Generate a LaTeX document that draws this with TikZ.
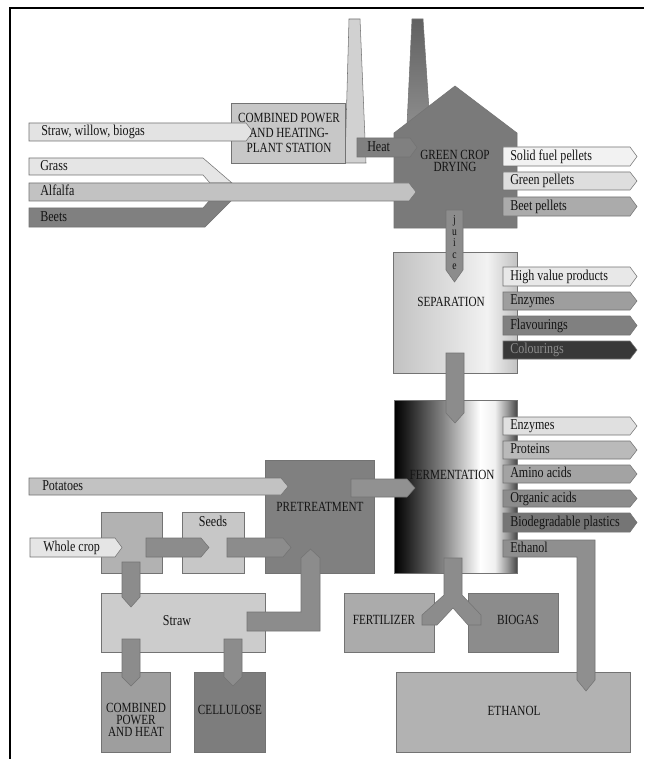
\documentclass[tikz,border=0pt]{standalone}
\usepackage{fontspec}
\setmainfont{Liberation Serif}[FakeStretch=0.8]
\pgfdeclarehorizontalshading{fermsh}{100bp}{color(0bp)=(black); color(25bp)=(black); color(30bp)=(black!88); color(45bp)=(black!48); color(60bp)=(white); color(66bp)=(black!6); color(71bp)=(black!40); color(75bp)=(black!72); color(100bp)=(black!72)}
\pgfdeclarehorizontalshading{sepsh}{100bp}{color(0bp)=(black!24); color(25bp)=(black!24); color(50bp)=(black!12); color(63bp)=(black!5); color(75bp)=(black!24); color(100bp)=(black!24)}
\tikzset{
  shp/.style={draw=black!55, line width=0.4pt, line join=miter},
  lbl/.style={font=\fontsize{11.3pt}{11pt}\selectfont, text=black!92, inner sep=0pt, text height=7.5pt, text depth=2pt},
  captxt/.style={font=\fontsize{10.5pt}{9.5pt}\selectfont, text=black!92, inner sep=0pt, align=center},
}
\newcommand{\FatR}[8]{%
  \path[shp, fill=#6] (#2,#3) -- (#4,#3) -- ({#4+7},{(#3+#5)/2}) -- (#4,#5) -- (#2,#5) -- cycle;
  \node[lbl, anchor=west] (#1) at ({#2+#7},{(#3+#5)/2}) {#8};}
\newcommand{\FatD}[6]{%
  \path[shp, fill=#6] (#1,#3) -- (#2,#3) -- (#2,#4) -- ({(#1+#2)/2},#5) -- (#1,#4) -- cycle;}
\begin{document}
\begin{tikzpicture}[x=0.75pt, y=-0.75pt]
\useasboundingbox (0,0) rectangle (644,759);
\fill[white] (0,0) rectangle (644,759);
% frame
\draw[line width=1.5pt] (10,759) -- (10,8) -- (644,8);

% ---------- top: power plant and green crop drying ----------
\path[shp, fill=black!18] (349,19) -- (360,19) -- (366,163) -- (345,163) -- cycle;
\path[shp, top color=black!62, bottom color=black!45] (412,19) -- (423,19) -- (430,125) -- (407,125) -- cycle;
\path[shp, fill=black!22] (231,103) rectangle (345,163);
\FatR{straw}{29}{123}{246}{141}{black!11}{12}{Straw, willow, biogas}
\node[captxt, font=\fontsize{10.5pt}{11.5pt}\selectfont] (chp) at (289,133) {COMBINED POWER\\AND HEATING-\\PLANT STATION};

\path[shp, fill=black!52] (394,228) -- (394,133) -- (455,86) -- (517,133) -- (517,228) -- cycle;
\FatR{heat}{357}{138}{410}{157}{black!50}{10}{Heat}
\node[captxt] (gcd) at (455,161) {GREEN CROP\\DRYING};

% grass / alfalfa / beets
\path[shp, fill=black!10] (29,158) -- (203,158) -- (232,183) -- (210,183) -- (203,175) -- (29,175) -- cycle;
\path[shp, fill=black!50] (29,208) -- (203,208) -- (210,200) -- (232,200) -- (205,227) -- (29,227) -- cycle;
\node[lbl, anchor=west] (grass) at (40,166.5) {Grass};
\node[lbl, anchor=west] (beets) at (40,217.5) {Beets};
\FatR{alfalfa}{29}{183}{409}{201}{black!24}{11}{Alfalfa}

\FatR{sfp}{503}{147}{630}{166}{black!5}{7}{Solid fuel pellets}
\FatR{gp}{503}{172}{630}{190}{black!13}{7}{Green pellets}
\FatR{bp}{503}{197}{630}{216}{black!33}{7}{Beet pellets}

% ---------- separation ----------
\path[shp, shading=sepsh] (393,252) rectangle (517,373);
\FatD{446}{463}{210}{270}{282}{black!45}
\node[captxt, font=\fontsize{9pt}{8.6pt}\selectfont] (juice) at (454.5,243) {j\\u\\i\\c\\e};
\node[captxt] (sep) at (451,302) {SEPARATION};
\FatR{hvp}{503}{267}{630}{286}{black!9}{7}{High value products}
\FatR{enz1}{503}{292}{630}{310}{black!38}{7}{Enzymes}
\FatR{flav}{503}{316}{630}{335}{black!50}{7}{Flavourings}
\FatR{col}{503}{341}{630}{359}{black!78}{7}{\textcolor{black!45}{Colourings}}

% ---------- fermentation ----------
\path[shp, shading=fermsh] (394,400) rectangle (517,573);
\FatD{446}{464}{353}{413}{423}{black!45}
\FatR{enz2}{503}{417}{630}{435}{black!12}{7}{Enzymes}
\FatR{prot}{503}{441}{630}{459}{black!27}{7}{Proteins}
\FatR{amino}{503}{465}{630}{483}{black!36}{7}{Amino acids}
\FatR{org}{503}{490}{630}{507}{black!45}{7}{Organic acids}
\FatR{bio}{503}{513}{630}{532}{black!54}{7}{Biodegradable plastics}

% ---------- pretreatment ----------
\path[shp, fill=black!50] (265,460) rectangle (374,573);
\FatR{pot}{29}{478}{281}{495}{black!24}{13}{Potatoes}
\path[shp, fill=black!43] (351,479) -- (407,479) -- (415,488) -- (407,497) -- (351,497) -- cycle;
\node[captxt] (pre) at (320,507) {PRETREATMENT};
\node[captxt] (ferm) at (452,475) {FERMENTATION};

% ---------- whole crop ----------
\path[shp, fill=black!30] (101,512) rectangle (162,573);
\path[shp, fill=black!22] (182,512) rectangle (244,573);
\node[lbl] (seeds) at (213,523) {Seeds};
\FatR{wc}{30}{538}{115}{557}{black!10}{13}{Whole crop}
\path[shp, fill=black!45] (146,538) -- (201,538) -- (209,547.5) -- (201,557) -- (146,557) -- cycle;
\path[shp, fill=black!45] (227,538) -- (283,538) -- (291,547.5) -- (283,557) -- (227,557) -- cycle;

\path[shp, fill=black!20] (101,593) rectangle (265,652);
\FatD{122}{140}{562}{597}{607}{black!45}
\node[lbl] (strawbox) at (177,622) {Straw};
\path[shp, fill=black!45] (247,612) -- (301,612) -- (301,558) -- (310.5,549) -- (320,558) -- (320,631) -- (247,631) -- cycle;

\path[shp, fill=black!38] (101,672) rectangle (170,752);
\path[shp, fill=black!51] (194,672) rectangle (265,752);
\FatD{122}{140}{639}{677}{686}{black!45}
\FatD{224}{242}{639}{677}{686}{black!45}
\node[captxt, font=\fontsize{10.5pt}{9pt}\selectfont] (cph) at (136,720) {COMBINED\\POWER\\AND HEAT};
\node[captxt] (cell) at (230,710) {CELLULOSE};

% ---------- fertilizer / biogas / ethanol ----------
\path[shp, fill=black!33] (344,593) rectangle (434,652);
\path[shp, fill=black!45] (468,593) rectangle (558,652);
\path[shp, fill=black!30] (396,672) rectangle (630,752);
\path[shp, fill=black!44] (503,540) -- (595,540) -- (595,680) -- (586,691) -- (577,680) -- (577,557) -- (503,557) -- cycle;
\node[lbl, anchor=west] (eth) at (510,548.5) {Ethanol};
\path[shp, fill=black!45] (444,558) -- (462,558) -- (462,595) -- (481,615) -- (481,625) -- (468,625) -- (453,608) -- (437,625) -- (422,625) -- (422,615) -- (444,595) -- cycle;
\node[captxt] (fert) at (384,620) {FERTILIZER};
\node[captxt] (biogas) at (518,620) {BIOGAS};
\node[captxt] (ethbox) at (514,711) {ETHANOL};
\end{tikzpicture}
\end{document}
